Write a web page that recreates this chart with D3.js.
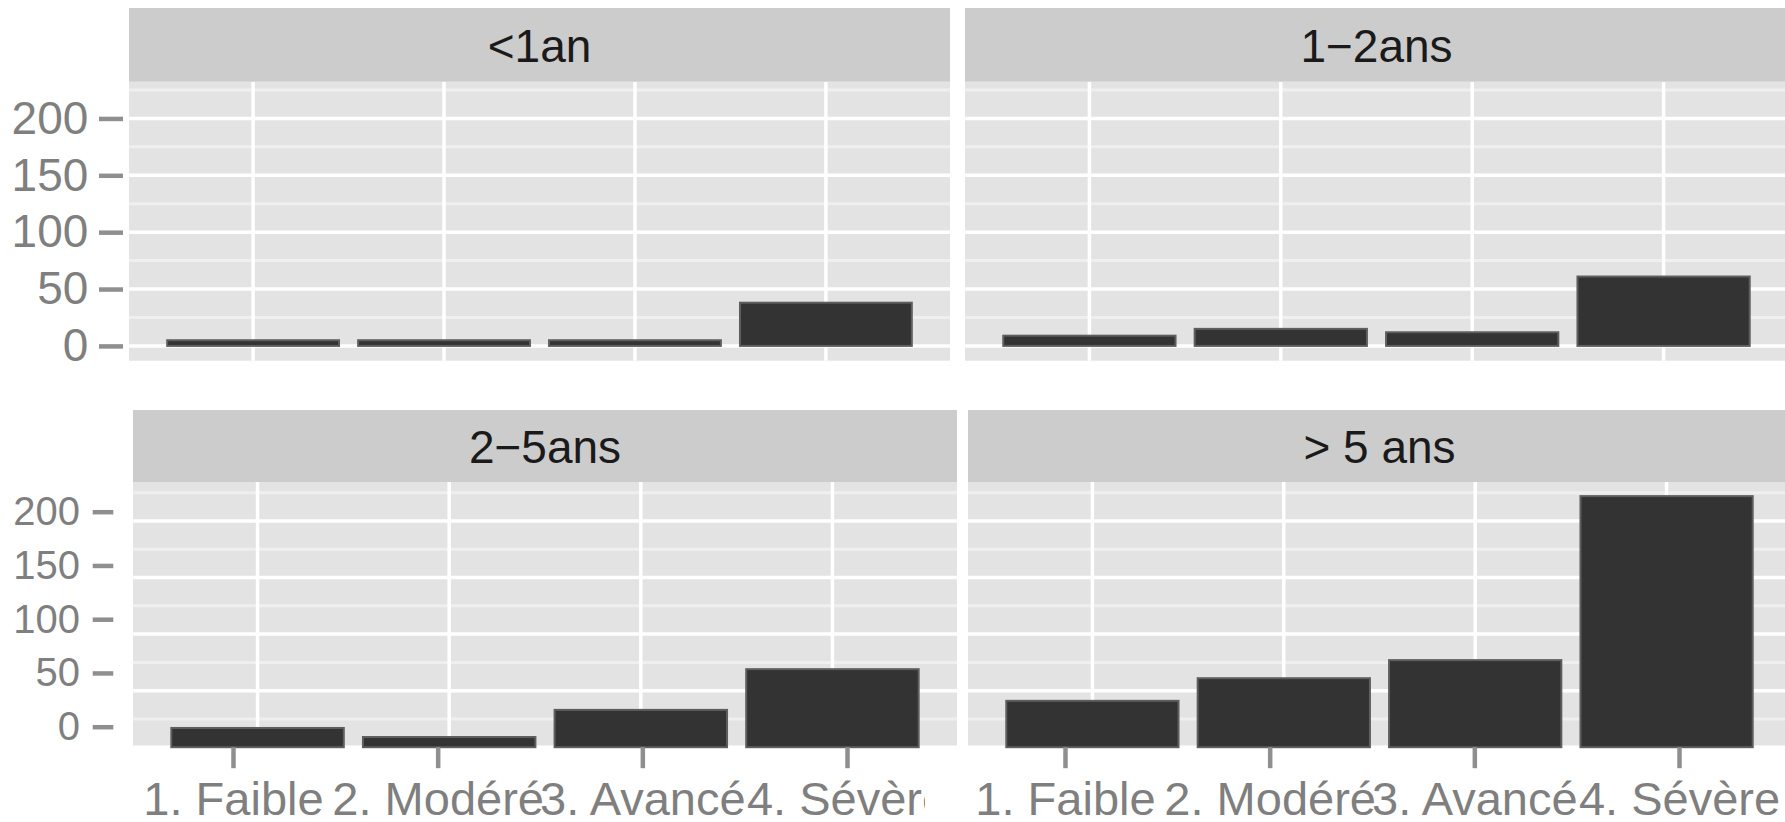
<!DOCTYPE html>
<html>
<head>
<meta charset="utf-8">
<script src="https://cdn.jsdelivr.net/npm/d3@7"></script>
<style>
  html, body { margin: 0; padding: 0; background: #ffffff; }
  svg { display: block; font-family: "Liberation Sans", Arial, Helvetica, sans-serif; }
</style>
</head>
<body>
<svg id="chart" width="1785" height="822"></svg>
<script>
// Severity categories on the x axis
const categories = ["1. Faible", "2. Modéré", "3. Avancé", "4. Sévère"];
// Facet titles (duration groups)
const facetLabels = ["<1an", "1\u22122ans", "2\u22125ans", "> 5 ans"];
// Counts per severity, one array per duration group
const countsUnder1 = [5, 5, 5, 38];
const counts1to2 = [9, 15, 12, 61];
const counts2to5 = [17, 9, 33, 69];
const countsOver5 = [41, 61, 77, 222];
// Axis breaks
const yTickValues = [0, 50, 100, 150, 200];
const yMinorValues = [25, 75, 125, 175, 225];

// ---- layout ----
const svg = d3.select("#chart");
const COL = {
  bg: "#e3e3e3", strip: "#cccccc", gridMajor: "#ffffff", gridMinor: "#efefef",
  bar: "#333333", barEdge: "#5e5e5e", axisText: "#7f7f7f", tick: "#8f8f8f", stripText: "#1a1a1a"
};

// vertical scales per row
const yTop = d3.scaleLinear().domain([-13, 232.3]).range([360.7, 81.7]);
const yBottom = d3.scaleLinear().domain([0, 234.5]).range([747.2, 482]);
const yBottomAxis = d3.scaleLinear().domain([0, 200]).range([726.7, 511.7]);

const panels = [
  { title: facetLabels[0], values: countsUnder1, x0: 129, x1: 950, stripTop: 8,   stripBottom: 81.7, y: yTop,    yBottomPx: 360.7, textY: 61.5 },
  { title: facetLabels[1], values: counts1to2,   x0: 965, x1: 1788, stripTop: 8,  stripBottom: 81.7, y: yTop,    yBottomPx: 360.7, textY: 61.5 },
  { title: facetLabels[2], values: counts2to5,   x0: 133, x1: 957, stripTop: 410, stripBottom: 482,  y: yBottom, yBottomPx: 747.2, textY: 462.5,
    axisRange: [233, 847], labelClip: 925 },
  { title: facetLabels[3], values: countsOver5,  x0: 968, x1: 1791, stripTop: 410, stripBottom: 482, y: yBottom, yBottomPx: 747.2, textY: 462.5,
    axisRange: [1065, 1679], labelClip: 1785 }
];

const defs = svg.append("defs");

panels.forEach((p, i) => {
  const g = svg.append("g").attr("class", "panel-" + i);
  const x = d3.scaleBand().domain(categories).range([p.x0, p.x1])
    .paddingInner(0.1).paddingOuter(0.2);
  const y = p.y;
  const yMax = y.domain()[1], yMin = y.domain()[0];
  const panelTop = p.stripBottom;

  // panel background
  g.append("rect")
    .attr("x", p.x0).attr("y", panelTop)
    .attr("width", p.x1 - p.x0).attr("height", p.yBottomPx - panelTop)
    .attr("fill", COL.bg);

  // minor horizontal grid
  g.selectAll(".gmin").data(yMinorValues.filter(v => v > yMin && v < yMax)).join("line")
    .attr("x1", p.x0).attr("x2", p.x1)
    .attr("y1", d => y(d)).attr("y2", d => y(d))
    .attr("stroke", COL.gridMinor).attr("stroke-width", 3);

  // major horizontal grid
  g.selectAll(".gmaj").data(yTickValues.filter(v => v >= yMin && v < yMax)).join("line")
    .attr("x1", p.x0).attr("x2", p.x1)
    .attr("y1", d => y(d)).attr("y2", d => y(d))
    .attr("stroke", COL.gridMajor).attr("stroke-width", 3.5);

  // vertical grid at category centres
  g.selectAll(".gv").data(categories).join("line")
    .attr("x1", d => x(d) + x.bandwidth() / 2).attr("x2", d => x(d) + x.bandwidth() / 2)
    .attr("y1", panelTop).attr("y2", p.yBottomPx)
    .attr("stroke", COL.gridMajor).attr("stroke-width", 3.5);

  // bars
  g.selectAll(".bar").data(categories.map((c, k) => ({ c, v: p.values[k] }))).join("rect")
    .attr("x", d => x(d.c)).attr("width", x.bandwidth())
    .attr("y", d => y(d.v)).attr("height", d => y(0) - y(d.v))
    .attr("fill", COL.bar).attr("stroke", COL.barEdge).attr("stroke-width", 2);

  // strip
  g.append("rect")
    .attr("x", p.x0).attr("y", p.stripTop)
    .attr("width", p.x1 - p.x0).attr("height", p.stripBottom - p.stripTop)
    .attr("fill", COL.strip);
  g.append("text")
    .attr("x", (p.x0 + p.x1) / 2).attr("y", p.textY)
    .attr("text-anchor", "middle").attr("font-size", 46).attr("fill", COL.stripText)
    .text(p.title);

  // bottom axis for the lower row
  if (p.axisRange) {
    const xt = d3.scalePoint().domain(categories).range(p.axisRange);
    const clipId = "clip-x-" + i;
    defs.append("clipPath").attr("id", clipId).append("rect")
      .attr("x", 0).attr("y", 740).attr("width", p.labelClip).attr("height", 82);
    const holder = g.append("g").attr("clip-path", `url(#${clipId})`);
    const ax = holder.append("g")
      .attr("transform", `translate(0,${p.yBottomPx})`)
      .call(d3.axisBottom(xt).tickSize(21).tickSizeOuter(0));
    ax.select(".domain").remove();
    ax.selectAll(".tick line").attr("stroke", COL.tick).attr("stroke-width", 4.5);
    ax.selectAll(".tick text")
      .attr("y", 815 - p.yBottomPx).attr("dy", null)
      .attr("font-size", 47).attr("fill", COL.axisText)
      .attr("font-family", "\"Liberation Sans\", Arial, sans-serif");
  }
});

// left axes
function leftAxis(scale, xPos, size, pad, fontSize) {
  const ax = svg.append("g")
    .attr("transform", `translate(${xPos},0)`)
    .call(d3.axisLeft(scale).tickValues(yTickValues).tickSize(size).tickPadding(pad).tickSizeOuter(0));
  ax.select(".domain").remove();
  ax.selectAll(".tick line").attr("stroke", COL.tick).attr("stroke-width", 4.5);
  ax.selectAll(".tick text")
    .attr("font-size", fontSize).attr("fill", COL.axisText)
    .attr("font-family", "\"Liberation Sans\", Arial, sans-serif");
}
leftAxis(yTop, 123, 24, 10.7, 46);
leftAxis(yBottomAxis, 113.3, 20.6, 12.7, 40);
</script>
</body>
</html>
